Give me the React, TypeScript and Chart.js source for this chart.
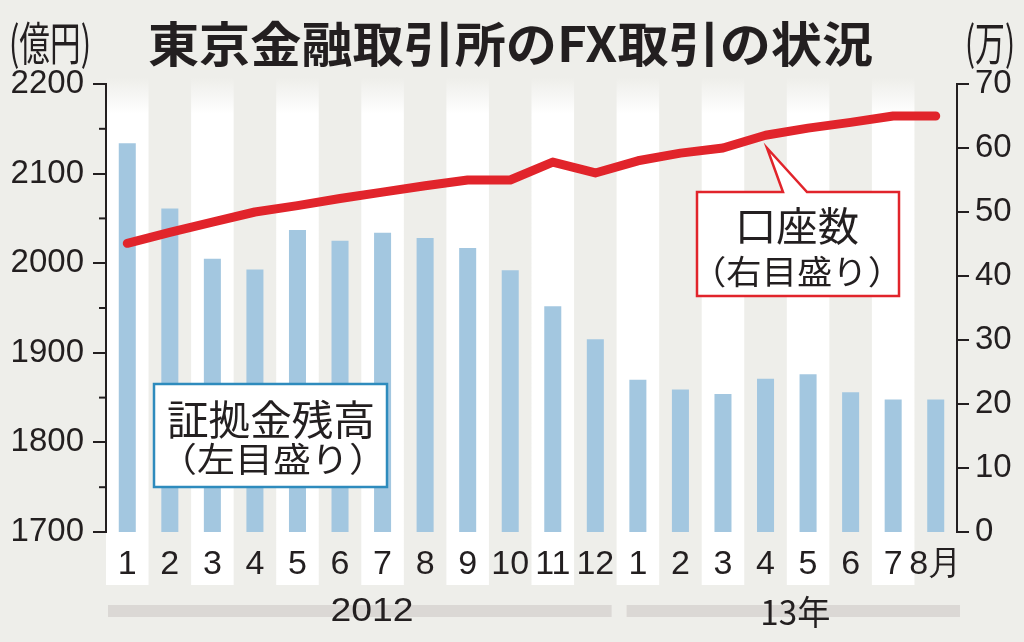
import React, { useEffect, useRef } from 'react';
import { Chart, registerables } from 'chart.js';

Chart.register(...registerables);

// ---- data ----
const categories = ['1', '2', '3', '4', '5', '6', '7', '8', '9', '10', '11', '12', '1', '2', '3', '4', '5', '6', '7', '8月'];
const marginBalance = [2134, 2061, 2005, 1993, 2037, 2025, 2034, 2028, 2017, 1992, 1952, 1915, 1870, 1859, 1854, 1871, 1876, 1856, 1848, 1848];
const accountCount = [45.1, 46.8, 48.4, 50, 51, 52.1, 53.1, 54.1, 55, 55, 57.8, 56.1, 58, 59.2, 60, 62, 63.1, 64, 65, 65];
const leftMinorTicks = [1750, 1850, 1950, 2050, 2150];
const yearLabels = ['2012', '13年'];

const TITLE = '東京金融取引所のFX取引の状況';
const BG = '#eeeeea';
const BLUE = '#a3c7e0';
const RED = '#e1242b';
const TEXT = '#231f20';
const YEARBAR = '#dbd8d5';
const BOX2 = '#2e8bbd';
const NUMFONT = '"Liberation Sans", Arial, sans-serif';
const JPFONT = '"Noto Sans CJK JP", sans-serif';

function drawFitted(ctx: CanvasRenderingContext2D, text: string, font: string, cx: number, cy: number, w: number, hScale = 1, color = TEXT) {
  ctx.save();
  ctx.font = font;
  const m = ctx.measureText(text).width;
  ctx.translate(cx, cy);
  ctx.scale(w / m, hScale);
  ctx.textAlign = 'center';
  ctx.textBaseline = 'middle';
  ctx.fillStyle = color;
  ctx.fillText(text, 0, 0);
  ctx.restore();
}

const decorPlugin = {
  id: 'decor',
  beforeDraw(chart: any) {
    const { ctx, width, height, chartArea, scales } = chart;
    const x = scales.x;
    ctx.save();
    ctx.fillStyle = BG;
    ctx.fillRect(0, 0, width, height);
    const step = x.getPixelForValue(1) - x.getPixelForValue(0);
    const top = chartArea.top - 6;
    const bottom = chartArea.bottom + 53;
    const grad = ctx.createLinearGradient(0, top, 0, top + 36);
    grad.addColorStop(0, BG);
    grad.addColorStop(1, '#ffffff');
    ctx.fillStyle = grad;
    for (let i = 0; i < categories.length; i += 2) {
      const cx = x.getPixelForValue(i);
      ctx.fillRect(cx - step / 2, top, step, bottom - top);
    }
    // year bars
    const boundary = (x.getPixelForValue(11) + x.getPixelForValue(12)) / 2;
    const l0 = x.getPixelForValue(0) - step / 2;
    const r1 = x.getPixelForValue(categories.length - 1) + step / 2;
    const yb = chartArea.bottom + 73;
    ctx.fillStyle = YEARBAR;
    ctx.fillRect(l0 + 2, yb, boundary - 5 - (l0 + 2), 12);
    ctx.fillRect(boundary + 10, yb, r1 + 3 - (boundary + 10), 12);
    ctx.restore();
  },
  afterDraw(chart: any) {
    const { ctx, chartArea, scales } = chart;
    const x = scales.x;
    const y = scales.y;
    ctx.save();
    // minor ticks on left axis
    ctx.strokeStyle = TEXT;
    ctx.lineWidth = 2;
    leftMinorTicks.forEach((v) => {
      const py = y.getPixelForValue(v);
      ctx.beginPath();
      ctx.moveTo(chartArea.left - 7, py);
      ctx.lineTo(chartArea.left, py);
      ctx.stroke();
    });

    // title and units
    drawFitted(ctx, TITLE, `bold 48px ${JPFONT}`, 510.5, 44, 725);
    drawFitted(ctx, '(億円)', `40px ${JPFONT}`, 50, 43, 82, 1.15);
    drawFitted(ctx, '(万)', `40px ${JPFONT}`, 990, 43, 50, 1.15);

    // year labels
    const yy = chartArea.bottom + 80;
    drawFitted(ctx, yearLabels[0], `34px ${NUMFONT}`, x.getPixelForValue(5.75), yy, 83);
    drawFitted(ctx, yearLabels[1], `34px ${JPFONT}`, x.getPixelForValue(15.7), yy, 70);

    // box 1 (accounts, right scale)
    ctx.beginPath();
    ctx.moveTo(697, 192);
    ctx.lineTo(783, 192);
    ctx.lineTo(767, 148);
    ctx.lineTo(807, 192);
    ctx.lineTo(899, 192);
    ctx.lineTo(899, 296);
    ctx.lineTo(697, 296);
    ctx.closePath();
    ctx.fillStyle = '#ffffff';
    ctx.fill();
    ctx.strokeStyle = RED;
    ctx.lineWidth = 2.5;
    ctx.lineJoin = 'miter';
    ctx.stroke();
    drawFitted(ctx, '口座数', `40px ${JPFONT}`, 797, 226, 124);
    drawFitted(ctx, '（右目盛り）', `33px ${JPFONT}`, 797, 271, 212);

    // box 2 (margin, left scale)
    ctx.fillStyle = '#ffffff';
    ctx.fillRect(154, 384, 233, 103);
    ctx.strokeStyle = BOX2;
    ctx.lineWidth = 2.5;
    ctx.strokeRect(154, 384, 233, 103);
    drawFitted(ctx, '証拠金残高', `41px ${JPFONT}`, 271, 419, 208);
    drawFitted(ctx, '（左目盛り）', `34px ${JPFONT}`, 273, 459, 228);
    ctx.restore();
  },
};

export default function App() {
  const ref = useRef<HTMLCanvasElement | null>(null);
  useEffect(() => {
    if (!ref.current) return;
    const chart = new Chart(ref.current, {
      type: 'bar',
      data: {
        labels: categories,
        datasets: [
          {
            type: 'line',
            label: '口座数',
            data: accountCount,
            yAxisID: 'y1',
            borderColor: RED,
            borderWidth: 9,
            pointRadius: 0,
            tension: 0,
            borderCapStyle: 'round',
            borderJoinStyle: 'round',
            order: 0,
          } as any,
          {
            type: 'bar',
            label: '証拠金残高',
            data: marginBalance,
            yAxisID: 'y',
            backgroundColor: BLUE,
            barPercentage: 0.4,
            categoryPercentage: 1,
            order: 1,
          } as any,
        ],
      },
      options: {
        animation: false,
        responsive: true,
        maintainAspectRatio: false,
        layout: { padding: { top: 84, left: 0, right: 0, bottom: 0 } },
        plugins: { legend: { display: false }, tooltip: { enabled: false }, title: { display: false } },
        scales: {
          x: {
            type: 'category',
            offset: true,
            grid: { display: false, drawTicks: false },
            border: { display: false },
            ticks: { autoSkip: false, maxRotation: 0, padding: 12, color: TEXT, font: { size: 34, family: NUMFONT } },
            afterFit: (s: any) => { s.height = 110; },
          },
          y: {
            position: 'left',
            min: 1700,
            max: 2200,
            ticks: { stepSize: 100, padding: 9, color: TEXT, font: { size: 33, family: NUMFONT }, callback: (v: any) => String(v) },
            grid: { drawOnChartArea: false, drawTicks: true, tickLength: 13, color: TEXT, lineWidth: 2 },
            border: { display: true, color: TEXT, width: 2 },
            afterFit: (s: any) => { s.width = 106; },
          },
          y1: {
            position: 'right',
            min: 0,
            max: 70,
            ticks: { stepSize: 10, padding: 6, color: TEXT, font: { size: 33, family: NUMFONT }, callback: (v: any) => String(v) },
            grid: { drawOnChartArea: false, drawTicks: true, tickLength: 12, color: TEXT, lineWidth: 2 },
            border: { display: true, color: TEXT, width: 2 },
            afterFit: (s: any) => { s.width = 67; },
          },
        },
      } as any,
      plugins: [decorPlugin],
    });
    return () => chart.destroy();
  }, []);
  return (
    <div style={{ position: 'absolute', left: 0, top: 0, width: 1024, height: 642 }}>
      <canvas ref={ref} />
    </div>
  );
}
